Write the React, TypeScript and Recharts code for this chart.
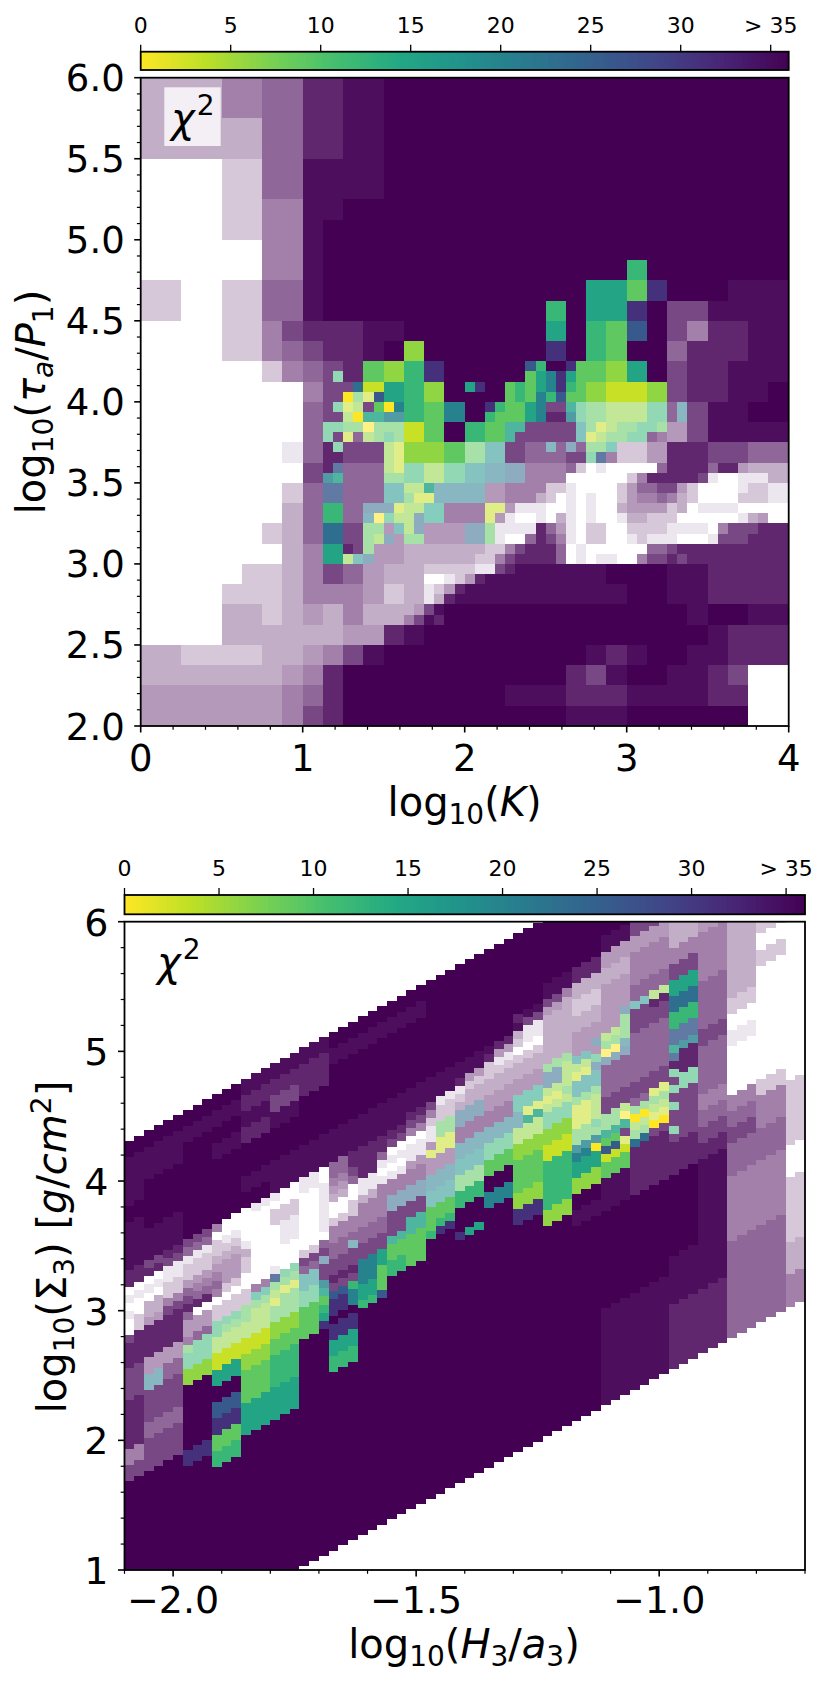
import React from "react";
import { ScatterChart, Scatter, XAxis, YAxis } from "recharts";

const FONT = "'DejaVu Sans', sans-serif";

// chi-square map, log10(K) 0..4 left to right, log10(tau_a/P1) 6..2 top to bottom.
// "." no value, a-j fading "> 35" purple, 0-9 chi-square steps, capitals the faded chi-square steps.
const chiRows: string[] = [
  "cccceeffhhiij",
  "cccceeffhhiij",
  "ccccccffhhiij",
  "ccccccffhhiij",
  "....bbffiiiij",
  "....bbffiiiij",
  "....bbeeiijj",
  "....bbeeijjj",
  "......eeijj",
  "......eei" + "jjjjjjjjjjjjjjj" + "4" + "jjjjjjj",
  "bb..bbffi" + "jjjjjjjjjjjjj" + "5539" + "jjj" + "iii",
  "bb..bbffi" + "jjjjjjjjjjj" + "4j559j" + "gg" + "iii",
  "....bbeghhhii" + "jjjjjjj" + "5j438j" + "g" + "ehh" + "ii",
  "....bbefghhij" + "2" + "jjjjjj" + "9j43jj" + "fhhh" + "ii",
  "......befgh" + "3249" + "jjjj" + "385325" + "jghhiii",
  "........eg8" + "1542" + "jjj" + "35" + "74" + "211" + "2" + "ghhiij",
  "........fg2g" + "043" + "6j43" + "5g" + "EDCCE" + "fgiijj",
  "........fECBD13" + "j43E" + "ggG" + "CDED" + "dgiiii",
  ".......afhgg" + "C22" + "3DG" + "gffg" + "E" + "bbd" + "hhggff",
  "........gHff" + "CEC" + "EGHI" + "eef" + "a." + "g" + "hhh" + "g" + "ecc",
  ".......bfKff" + "GCH" + "HHde" + "eba" + ".." + "cfda" + "..aa",
  ".......cf4fI" + "DCF" + "eeBd" + "aaa" + ".." + "ccca" + "a...",
  "......bcf7gD" + "FId" + "dIDa" + "bda" + "b." + "baaa" + "eghh",
  ".......ce5gD" + "dcc" + "ccbf" + "hga" + ".." + "afgh" + "hhhh",
  ".....bbcegfd" + "cca" + "bbii" + "iii" + "ij" + "jjii" + "hhhh",
  "....bbbceeed" + "bcb" + "hiii" + "iii" + "ii" + "jjii" + "hhhh",
  "....ccbcdcec" + "cdg" + "jjjj" + "jjj" + "jj" + "jjji" + "jjii",
  "....ccccccdd" + "hij" + "jjjj" + "jjj" + "jj" + "jjjj" + "ihhh",
  "ccbbbbccdegi" + "jjj" + "jjjj" + "jjj" + "ih" + "ijji" + "ihhh",
  "cccccc" + "cdeh" + "jj" + "jjj" + "jjjj" + "jjh" + "gi" + "jjii" + "hg..",
  "dddddd" + "defh" + "jj" + "jjj" + "jjji" + "iih" + "hh" + "iiii" + "hh..",
  "dddddd" + "degh" + "jj" + "jjj" + "jjjj" + "jji" + "ii" + "jjjj" + "jj..",
];

// finer cells on top of the map: half-row, half-column, codes
const chiFine: [number, number, string][] = [
  [29, 19, "E"], [30, 20, "g711"], [31, 20, "0DB8"], [32, 19, "EBCg306"], [33, 19, "gC0MMLL"],
  [34, 19, "EDDADDD"], [35, 19, "gBfCDED"], [36, 18, "hE"], [37, 18, "hh"], [38, 18, "hK"], [39, 18, "LM"],
  [36, 24, "CB"], [37, 24, "CB"], [38, 24, "CB"], [39, 24, "DD"], [40, 28, "M"], [41, 26, "DBB"],
  [42, 22, "IIIBCC"], [43, 22, "HAECCI"], [44, 22, "DDdGCI"], [45, 22, "DCIdDD"], [46, 20, "hgDd"], [47, 20, "CGId"],
  [28, 38, "84jj93"], [29, 38, "356953"], [30, 32, "59"], [30, 37, "4356943"], [31, 36, "34364833"],
  [32, 34, "943356ggME"], [33, 34, "433356hhLE"], [34, 36, "MM"], [35, 36, "Mg"], [34, 42, "gG"], [35, 42, "gG"],
  [34, 44, "DBCDDEED"], [35, 44, "BCDDEEfe"], [36, 40, "HfIfDDF"], [37, 42, "ggEKe"], [32, 53, "H"], [33, 53, "H"],
  [38, 43, "b.a.....fhhhhfhhdcc"],
  [39, 42, "......be" + "hhhhhg" + "a.." + "aaa"],
  [40, 40, "bba....bdffggdb....abb"],
  [41, 39, "cb.a.a..bdeefecb....bbb"],
  [42, 37, "aaa..a.a..cddddbc.aaaa.."],
  [43, 35, "da..a.ca.a..accbbb......acd"],
  [44, 34, "Daaaahfda.bb..bbbbaaaa.eggg"],
  [45, 34, "Da..fhgea.bb..abaaa...ag"],
  [46, 34, "bbeghhhf.a......ffgh"],
  [47, 33, "bbeghhhhf.a.aa..eggh"],
  [48, 28, "bbbbbaagh"], [49, 28, "..abdhi"], [50, 28, "abdhi"], [51, 28, "achi"], [52, 26, "cdgij"], [53, 26, "egihj"],
];

const chiByCode: Record<string, number> = { "0": 0, "1": 3, "2": 6, "3": 9, "4": 12, "5": 15, "6": 20, "7": 23, "8": 26, "9": 31 };
const fadedByCode: Record<string, [number, number]> = {
  A: [0, 0.55], B: [3, 0.55], C: [6, 0.55], D: [9, 0.55], E: [12, 0.55], F: [15, 0.55], G: [18, 0.55], H: [21, 0.55], I: [24, 0.55],
  K: [26, 0.8], L: [20, 0.8], M: [15, 0.8],
};
const purpleByCode: Record<string, number> = { a: 0.1, b: 0.22, c: 0.32, d: 0.4, e: 0.5, f: 0.6, g: 0.72, h: 0.85, i: 0.95, j: 1 };
const viridisStops = ["#440154", "#482475", "#414487", "#355f8d", "#2a788e", "#21918c", "#22a884", "#44bf70", "#7ad151", "#bddf26", "#fde725"];

const colourbarTicks = [0, 5, 10, 15, 20, 25, 30, 35];
const topXTicks = [0, 0.2, 0.4, 0.6, 0.8, 1, 1.2, 1.4, 1.6, 1.8, 2, 2.2, 2.4, 2.6, 2.8, 3, 3.2, 3.4, 3.6, 3.8, 4];
const topXMajor = [0, 1, 2, 3, 4];
const topYTicks = Array.from({ length: 41 }, (_, i) => +(2 + i * 0.1).toFixed(1));
const topYMajor = [2, 2.5, 3, 3.5, 4, 4.5, 5, 5.5, 6];
const lowXTicks = [-2.1, -2, -1.9, -1.8, -1.7, -1.6, -1.5, -1.4, -1.3, -1.2, -1.1, -1, -0.9, -0.8, -0.7];
const lowXMajor = [-2, -1.5, -1];
const lowYTicks = Array.from({ length: 26 }, (_, i) => +(1 + i * 0.2).toFixed(1));
const lowYMajor = [1, 2, 3, 4, 5, 6];

const hex = (s: string) => [1, 3, 5].map((i) => parseInt(s.slice(i, i + 2), 16));
const toHex = (c: number[]) => "#" + c.map((v) => Math.round(v).toString(16).padStart(2, "0")).join("");
function chiColour(chi: number, alpha = 1) {
  const t = Math.max(0, Math.min(1, 1 - chi / 36)) * 10;
  const i = Math.min(9, Math.floor(t));
  const a = hex(viridisStops[i]);
  const b = hex(viridisStops[i + 1]);
  return toHex(a.map((v, k) => (v + (b[k] - v) * (t - i)) * alpha + 255 * (1 - alpha)));
}
function codeColour(code: string) {
  if (code in chiByCode) return chiColour(chiByCode[code]);
  if (code in fadedByCode) return chiColour(fadedByCode[code][0], fadedByCode[code][1]);
  return toHex(hex("#440154").map((v) => v * purpleByCode[code] + 255 * (1 - purpleByCode[code])));
}

const grid: string[][] = [];
chiRows.forEach((row, r) => {
  const full = row.padEnd(32, row[row.length - 1]).slice(0, 32);
  const line: string[] = [];
  for (const ch of full) line.push(ch, ch);
  grid[r * 2] = line;
  grid[r * 2 + 1] = line.slice();
});
chiFine.forEach(([r, c, codes]) => {
  [...codes].forEach((ch, i) => {
    if (c + i < 64) grid[r][c + i] = ch;
  });
});

type Cell = { x: number; y: number; w: number; h: number; fill: string };

// first panel: the map itself
const topCells: Cell[] = [];
grid.forEach((line, r) => {
  let start = 0;
  for (let c = 1; c <= 64; c++) {
    if (c === 64 || line[c] !== line[start]) {
      if (line[start] !== ".") {
        const w = (c - start) * 0.0625;
        topCells.push({ x: start * 0.0625 + w / 2, y: 6 - (r + 0.5) * 0.0625, w, h: 0.0625, fill: codeColour(line[start]) });
      }
      start = c;
    }
  }
});

// second panel: the same cells in H3/a3 = -0.365 - K/2, Sigma3 = 9.76 - K - tau, binned in 0.02 dex columns
const binWidth = 0.02;
const binCount = 70;
const lowCells: Cell[] = [];
for (let j = 0; j < binCount; j++) {
  const xc = -2.1 + (j + 0.5) * binWidth;
  const logK = (-0.365 - xc) / 0.5;
  const col = Math.floor(logK / 0.0625);
  if (col < 0 || col > 63) continue;
  let start = 0;
  for (let r = 1; r <= 64; r++) {
    if (r === 64 || grid[r][col] !== grid[start][col]) {
      const code = grid[start][col];
      if (code !== ".") {
        const hi = Math.min(6, 9.76 - logK - (6 - r * 0.0625));
        const lo = Math.max(1, 9.76 - logK - (6 - start * 0.0625));
        if (hi > lo) lowCells.push({ x: xc, y: (hi + lo) / 2, w: binWidth, h: hi - lo, fill: codeColour(code) });
      }
      start = r;
    }
  }
}

const rampCells = (vmax: number): Cell[] =>
  Array.from({ length: 180 }, (_, i) => {
    const w = vmax / 180;
    return { x: (i + 0.5) * w, y: 0.5, w, h: 1, fill: chiColour((i + 0.5) * w) };
  });

function cellShape(sx: number, sy: number) {
  return (props: any) => {
    const p = props.payload as Cell;
    const width = p.w * sx;
    const height = p.h * sy;
    return <rect x={props.cx - width / 2} y={props.cy - height / 2} width={width} height={height} fill={p.fill} shapeRendering="crispEdges" />;
  };
}

const fmt = (v: number) => (v < 0 ? "\u2212" + Math.abs(v).toFixed(1) : String(v));

function xTick(major: number[], fs: number, base: number, dec: boolean) {
  return (props: any) => {
    const { x, y, payload } = props;
    const isMajor = major.includes(payload.value);
    return (
      <g>
        <line x1={x} x2={x} y1={y} y2={y + (isMajor ? 6.5 : 3.8)} stroke="#000" strokeWidth={isMajor ? 1.6 : 1.2} />
        {isMajor && (
          <text x={x} y={y + base} textAnchor="middle" fontSize={fs} fontFamily={FONT} fill="#000">
            {dec ? fmt(payload.value) : String(payload.value)}
          </text>
        )}
      </g>
    );
  };
}
function yTick(major: number[], fs: number, gap: number, dec: boolean) {
  return (props: any) => {
    const { x, y, payload } = props;
    const isMajor = major.includes(payload.value);
    return (
      <g>
        <line x1={x} x2={x - (isMajor ? 6.5 : 3.8)} y1={y} y2={y} stroke="#000" strokeWidth={isMajor ? 1.6 : 1.2} />
        {isMajor && (
          <text x={x - gap} y={y + fs * 0.365} textAnchor="end" fontSize={fs} fontFamily={FONT} fill="#000">
            {dec ? payload.value.toFixed(1) : String(payload.value)}
          </text>
        )}
      </g>
    );
  };
}
function barTick(props: any) {
  const { x, y, payload } = props;
  return (
    <g>
      <line x1={x} x2={x} y1={y} y2={y - 7} stroke="#000" strokeWidth={1.3} />
      <text x={x} y={y - 19} textAnchor="middle" fontSize={22} fontFamily={FONT} fill="#000">
        {payload.value === 35 ? "> 35" : String(payload.value)}
      </text>
    </g>
  );
}

type Box = { l: number; t: number; r: number; b: number };
const topBox: Box = { l: 140.7, t: 77.7, r: 788.7, b: 726 };
const lowBox: Box = { l: 124.5, t: 921.7, r: 805, b: 1570 };
const topBar: Box = { l: 140.7, t: 51.7, r: 788.7, b: 70 };
const lowBar: Box = { l: 124.5, t: 895, r: 805, b: 914.3 };

function Panel({ box, cells, xd, yd, xt, yt, xTickFn, yTickFn }: any) {
  const sx = (box.r - box.l) / (xd[1] - xd[0]);
  const sy = (box.b - box.t) / (yd[1] - yd[0]);
  return (
    <div style={{ position: "absolute", left: 0, top: 0 }}>
      <ScatterChart width={830} height={1686} margin={{ left: box.l - 1, top: box.t, right: 830 - box.r, bottom: 1686 - box.b - 1 }}>
        <XAxis type="number" dataKey="x" domain={xd} ticks={xt} interval={0} height={1} axisLine={false} tickLine={false} tickSize={0} tickMargin={0} tick={xTickFn} allowDataOverflow />
        <YAxis type="number" dataKey="y" domain={yd} ticks={yt} interval={0} width={1} axisLine={false} tickLine={false} tickSize={0} tickMargin={0} tick={yTickFn} allowDataOverflow />
        <Scatter data={cells} isAnimationActive={false} shape={cellShape(sx, sy)} />
      </ScatterChart>
    </div>
  );
}

function Bar({ box, vmax }: { box: Box; vmax: number }) {
  const sx = (box.r - box.l) / vmax;
  const sy = box.b - box.t;
  return (
    <div style={{ position: "absolute", left: 0, top: 0 }}>
      <ScatterChart width={830} height={1686} margin={{ left: box.l, top: box.t - 1, right: 830 - box.r, bottom: 1686 - box.b }}>
        <XAxis type="number" dataKey="x" orientation="top" domain={[0, vmax]} ticks={colourbarTicks} interval={0} height={1} axisLine={false} tickLine={false} tickSize={0} tickMargin={0} tick={barTick} />
        <YAxis type="number" dataKey="y" domain={[0, 1]} width={0} hide />
        <Scatter data={rampCells(vmax)} isAnimationActive={false} shape={cellShape(sx, sy)} />
      </ScatterChart>
    </div>
  );
}

const SUB = 0.7;
function Frame({ box }: { box: Box }) {
  return <rect x={box.l} y={box.t} width={box.r - box.l} height={box.b - box.t} fill="none" stroke="#000" strokeWidth={1.8} />;
}

export default function App() {
  const fs = 40;
  const sub = fs * SUB;
  const it = { fontStyle: "italic" as const };
  return (
    <div style={{ position: "absolute", left: 0, top: 0, width: 830, height: 1686, background: "#fff", overflow: "hidden" }}>
      <Panel box={topBox} cells={topCells} xd={[0, 4]} yd={[2, 6]} xt={topXTicks} yt={topYTicks} xTickFn={xTick(topXMajor, 37, 44.7, false)} yTickFn={yTick(topYMajor, 37, 16, true)} />
      <Panel box={lowBox} cells={lowCells} xd={[-2.1, -0.7]} yd={[1, 6]} xt={lowXTicks} yt={lowYTicks} xTickFn={xTick(lowXMajor, 38, 43, true)} yTickFn={yTick(lowYMajor, 38, 16, false)} />
      <Bar box={topBar} vmax={36} />
      <Bar box={lowBar} vmax={36} />
      <svg width={830} height={1686} style={{ position: "absolute", left: 0, top: 0, pointerEvents: "none" }} fontFamily={FONT} fill="#000">
        <Frame box={topBox} />
        <Frame box={lowBox} />
        <Frame box={topBar} />
        <Frame box={lowBar} />
        <rect x={164.3} y={87.3} width={56.4} height={58.7} fill="#fff" fillOpacity={0.8} />
        <text x={171} y={132} fontSize={40}>
          <tspan {...it}>χ</tspan>
          <tspan fontSize={28} dy={-17} dx={2}>2</tspan>
        </text>
        <text x={157} y={976} fontSize={40}>
          <tspan {...it}>χ</tspan>
          <tspan fontSize={28} dy={-17} dx={2}>2</tspan>
        </text>
        <text x={464.6} y={816} textAnchor="middle" fontSize={fs}>
          log<tspan fontSize={sub} dy={8}>10</tspan><tspan dy={-8}>(</tspan><tspan {...it}>K</tspan>)
        </text>
        <text transform="translate(45,402) rotate(-90)" textAnchor="middle" fontSize={fs}>
          log<tspan fontSize={sub} dy={8}>10</tspan><tspan dy={-8}>(</tspan><tspan {...it}>τ</tspan><tspan {...it} fontSize={sub} dy={8}>a</tspan><tspan dy={-8}>/</tspan><tspan {...it}>P</tspan><tspan fontSize={sub} dy={8}>1</tspan><tspan dy={-8}>)</tspan>
        </text>
        <text x={464} y={1658} textAnchor="middle" fontSize={fs}>
          log<tspan fontSize={sub} dy={8}>10</tspan><tspan dy={-8}>(</tspan><tspan {...it}>H</tspan><tspan fontSize={sub} dy={8}>3</tspan><tspan dy={-8}>/</tspan><tspan {...it}>a</tspan><tspan fontSize={sub} dy={8}>3</tspan><tspan dy={-8}>)</tspan>
        </text>
        <text transform="translate(66,1247) rotate(-90)" textAnchor="middle" fontSize={fs}>
          log<tspan fontSize={sub} dy={8}>10</tspan><tspan dy={-8}>(Σ</tspan><tspan fontSize={sub} dy={8}>3</tspan><tspan dy={-8}>) [</tspan><tspan {...it}>g</tspan>/<tspan {...it}>cm</tspan><tspan fontSize={sub} dy={-15}>2</tspan><tspan dy={15}>]</tspan>
        </text>
      </svg>
    </div>
  );
}
